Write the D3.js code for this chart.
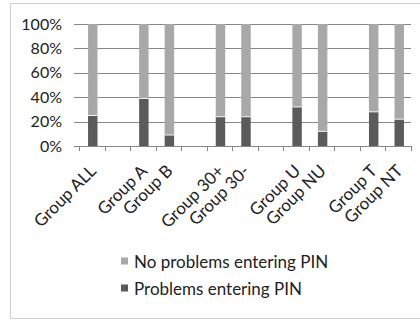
<!DOCTYPE html>
<html>
<head>
<meta charset="utf-8">
<script src="https://cdn.jsdelivr.net/npm/d3@7"></script>
<style>
  html, body { margin: 0; padding: 0; background: #fff; }
  svg { display: block; font-family: Lato, "Open Sans", sans-serif; }
</style>
</head>
<body>
<svg id="chart" width="420" height="320"></svg>
<script>
// Category slots; empty names are spacer columns between groups
const categories = ["Group ALL", "", "Group A", "Group B", "", "Group 30+", "Group 30-", "", "Group U", "Group NU", "", "Group T", "Group NT"];
// Share with problems entering the PIN (%), null for spacer slots
const problems = [25, null, 39, 9, null, 24, 24, null, 32, 12, null, 28, 22];
const seriesNames = ["No problems entering PIN", "Problems entering PIN"];
const yTicks = [0, 20, 40, 60, 80, 100];

const colDark = "#5b5b5b", colLight = "#a8a8a8", colGrid = "#868686", colText = "#222";

const svg = d3.select("#chart");

// outer chart frame
svg.append("rect").attr("x", 10.5).attr("y", 3.5).attr("width", 430).attr("height", 315)
  .attr("fill", "none").attr("stroke", "#d0d0d0");

const plotL = 79, plotR = 411, plotT = 24, plotB = 146;

const x = d3.scaleBand().domain(d3.range(categories.length)).range([plotL, plotR]);
const y = d3.scaleLinear().domain([0, 100]).range([plotB, plotT]);

// horizontal gridlines with short ticks to the left
const yAxis = d3.axisLeft(y).tickValues(yTicks).tickSize(5).tickFormat(d => d + "%");
const gy = svg.append("g").attr("transform", `translate(${plotL},0)`).call(yAxis);
gy.select(".domain").remove();
gy.selectAll(".tick line").attr("stroke", colGrid);
gy.selectAll(".tick").append("line").attr("x1", 0).attr("x2", plotR - plotL).attr("stroke", colGrid);
gy.selectAll(".tick line").attr("shape-rendering", "crispEdges");
gy.selectAll(".tick text").attr("font-size", 16).attr("fill", colText).attr("x", -17)
  .attr("font-family", "Lato");

// stacked bars
const rows = categories.map((c, i) => ({ i, c, p: problems[i] })).filter(d => d.p != null);
const bw = x.bandwidth() * 0.37;
const bx = d => x(d.i) + x.bandwidth() / 2 - bw / 2 + 1;
const bars = svg.append("g");
bars.selectAll("rect.light").data(rows).join("rect").attr("class", "light")
  .attr("x", bx).attr("width", bw)
  .attr("y", y(100))
  .attr("height", d => y(d.p) - y(100))
  .attr("fill", colLight);
bars.selectAll("rect.dark").data(rows).join("rect").attr("class", "dark")
  .attr("x", bx).attr("width", bw)
  .attr("y", d => y(d.p))
  .attr("height", d => y(0) - y(d.p))
  .attr("fill", colDark);
// thin pale seam between the two segments
bars.selectAll("line.seam").data(rows).join("line").attr("class", "seam")
  .attr("x1", bx).attr("x2", d => bx(d) + bw)
  .attr("y1", d => y(d.p)).attr("y2", d => y(d.p))
  .attr("stroke", "#f4f4f4").attr("stroke-width", 1);

// category axis: baseline, boundary ticks, rotated labels
const gx = svg.append("g");
gx.append("line").attr("x1", plotL).attr("x2", plotR).attr("y1", plotB + 0.5).attr("y2", plotB + 0.5)
  .attr("stroke", colGrid);
const bounds = d3.range(categories.length + 1).map(k => plotL + k * x.step());
gx.selectAll("line.tk").data(bounds).join("line").attr("class", "tk")
  .attr("x1", d => Math.round(d) + 0.5).attr("x2", d => Math.round(d) + 0.5)
  .attr("y1", plotB).attr("y2", plotB + 5).attr("stroke", colGrid);
gx.selectAll("text").data(categories.map((c, i) => ({ c, i })).filter(d => d.c)).join("text")
  .attr("transform", d => `translate(${x(d.i) + x.bandwidth() / 2 + 5.5},${plotB + 26}) rotate(-45)`)
  .attr("text-anchor", "end")
  .attr("font-size", 17).attr("fill", colText)
  .text(d => d.c);

// legend
const legend = svg.append("g");
const lg = [{ name: seriesNames[0], col: colLight, y: 261 }, { name: seriesNames[1], col: colDark, y: 288 }];
legend.selectAll("rect").data(lg).join("rect")
  .attr("x", 121).attr("y", d => d.y - 3.5).attr("width", 7).attr("height", 7).attr("fill", d => d.col);
legend.selectAll("text").data(lg).join("text")
  .attr("x", 134).attr("y", d => d.y + 6.5).attr("font-size", 17).attr("fill", colText)
  .text(d => d.name);
</script>
</body>
</html>
